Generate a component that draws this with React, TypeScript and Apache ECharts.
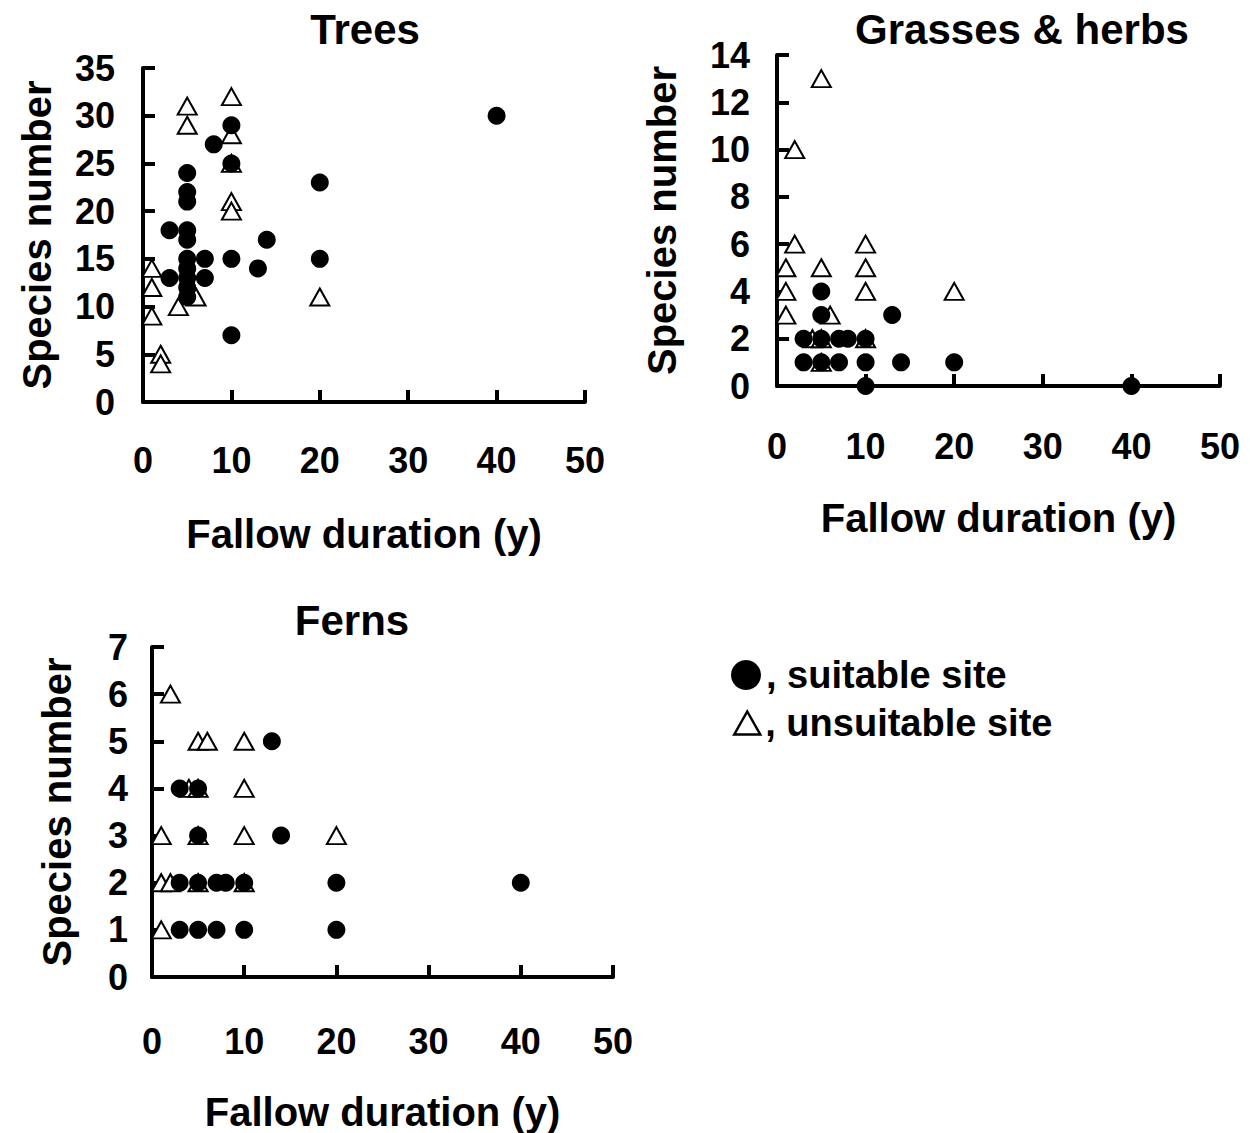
import React, { useEffect, useRef } from "react";
import * as echarts from "echarts";

const FONT = '"Liberation Sans", Arial, Helvetica, sans-serif';

// Trees panel: [fallow duration (y), species number]
const treesSuitable = [
  [10, 29], [8, 27], [10, 25], [20, 23], [5, 24], [5, 22], [5, 21], [3, 18], [5, 18], [5, 17],
  [14, 17], [5, 15], [7, 15], [10, 15], [20, 15], [13, 14], [3, 13], [7, 13], [5, 14], [5, 13],
  [5, 12], [5, 11], [10, 7], [40, 30],
];
const treesUnsuitable = [
  [10, 32], [5, 31], [5, 29], [10, 28], [10, 25], [10, 21], [10, 20], [1, 14], [1, 12], [1, 9],
  [2, 5], [2, 4], [4, 10], [6, 11], [20, 11],
];

// Grasses & herbs panel
const grassesSuitable = [
  [5, 4], [5, 3], [13, 3], [3, 2], [5, 2], [7, 2], [8, 2], [10, 2], [3, 1], [5, 1],
  [7, 1], [10, 1], [14, 1], [20, 1], [10, 0], [40, 0],
];
const grassesUnsuitable = [
  [5, 13], [2, 10], [2, 6], [10, 6], [1, 5], [5, 5], [10, 5], [1, 4], [10, 4], [20, 4],
  [1, 3], [6, 3], [4, 2], [5, 2], [10, 2], [5, 1],
];

// Ferns panel
const fernsSuitable = [
  [13, 5], [3, 4], [5, 4], [5, 3], [14, 3], [3, 2], [5, 2], [7, 2], [8, 2], [10, 2],
  [20, 2], [40, 2], [3, 1], [5, 1], [7, 1], [10, 1], [20, 1],
];
const fernsUnsuitable = [
  [2, 6], [5, 5], [6, 5], [10, 5], [4, 4], [5, 4], [10, 4], [1, 3], [5, 3], [10, 3],
  [20, 3], [1, 2], [2, 2], [5, 2], [10, 2], [1, 1],
];

const panelTitles = ["Trees", "Grasses & herbs", "Ferns"];
const yMax = [35, 14, 7];
const yInterval = [5, 2, 1];
const xMax = 50;
const xInterval = 10;
const xName = "Fallow duration (y)";
const yName = "Species number";
const suitableName = "suitable site";
const unsuitableName = "unsuitable site";

export default function App() {
  const ref = useRef<HTMLDivElement>(null);

  useEffect(() => {
    if (!ref.current) return;
    const chart = echarts.init(ref.current, null, { renderer: "svg" });

    const txt = (size: number) => ({
      fontSize: size,
      fontWeight: "bold" as const,
      color: "#000",
      fontFamily: FONT,
    });
    const lineStyle = { color: "#000", width: 4 };

    const grids = [
      { left: 143, top: 68, width: 442, height: 334 },
      { left: 777, top: 55, width: 443, height: 331 },
      { left: 152, top: 647, width: 461, height: 330 },
    ];
    const xNameGap = [112, 112, 115];
    const xLabelMargin = [40, 42, 46];
    const yNameGap = [86, 95, 75];
    const yLabelMargin = [28, 27, 24];

    const xAxis = grids.map((_, i) => ({
      gridIndex: i,
      type: "value",
      min: 0,
      max: xMax,
      interval: xInterval,
      name: xName,
      nameLocation: "middle",
      nameGap: xNameGap[i],
      nameTextStyle: txt(40),
      axisLine: { show: true, onZero: false, lineStyle },
      axisTick: { show: true, inside: true, length: 12, lineStyle },
      axisLabel: { margin: xLabelMargin[i], ...txt(36) },
      splitLine: { show: false },
    }));

    const yAxis = grids.map((_, i) => ({
      gridIndex: i,
      type: "value",
      min: 0,
      max: yMax[i],
      interval: yInterval[i],
      name: yName,
      nameLocation: "middle",
      nameGap: yNameGap[i],
      nameTextStyle: txt(40),
      axisLine: { show: true, onZero: false, lineStyle },
      axisTick: { show: true, inside: true, length: 12, lineStyle },
      axisLabel: { margin: yLabelMargin[i], ...txt(36) },
      splitLine: { show: false },
    }));

    const unsuitableSets = [treesUnsuitable, grassesUnsuitable, fernsUnsuitable];
    const suitableSets = [treesSuitable, grassesSuitable, fernsSuitable];

    const series: any[] = [];
    for (let i = 0; i < 3; i++) {
      series.push({
        name: unsuitableName,
        type: "scatter",
        xAxisIndex: i,
        yAxisIndex: i,
        clip: false,
        symbol: "triangle",
        symbolSize: [19, 17],
        itemStyle: { color: "#fff", borderColor: "#000", borderWidth: 2, opacity: 1 },
        data: unsuitableSets[i],
      });
    }
    for (let i = 0; i < 3; i++) {
      series.push({
        name: suitableName,
        type: "scatter",
        xAxisIndex: i,
        yAxisIndex: i,
        clip: false,
        symbol: "circle",
        symbolSize: 18,
        itemStyle: { color: "#000", borderColor: "#000", borderWidth: 0, opacity: 1 },
        data: suitableSets[i],
      });
    }

    const titlePos = [
      { left: 365, top: 8 },
      { left: 1022, top: 8 },
      { left: 352, top: 599 },
    ];

    chart.setOption({
      animation: false,
      backgroundColor: "#fff",
      title: panelTitles.map((t, i) => ({
        text: t,
        left: titlePos[i].left,
        top: titlePos[i].top,
        textAlign: "center",
        padding: 0,
        textStyle: txt(42),
      })),
      legend: [
        {
          data: [suitableName],
          left: 731,
          top: 656,
          padding: 0,
          itemWidth: 30,
          itemHeight: 30,
          selectedMode: false,
          formatter: (n: string) => ", " + n,
          textStyle: txt(38),
          itemStyle: { opacity: 1 },
        },
        {
          data: [unsuitableName],
          left: 733,
          top: 704,
          padding: 0,
          itemWidth: 26,
          itemHeight: 23,
          selectedMode: false,
          formatter: (n: string) => ", " + n,
          textStyle: txt(38),
          itemStyle: { opacity: 1, borderWidth: 2.5 },
        },
      ],
      grid: grids.map((g) => ({ ...g, containLabel: false })),
      xAxis,
      yAxis,
      series,
    });

    return () => chart.dispose();
  }, []);

  return (
    <div
      ref={ref}
      style={{ position: "absolute", left: 0, top: 0, width: 1250, height: 1133 }}
    />
  );
}
